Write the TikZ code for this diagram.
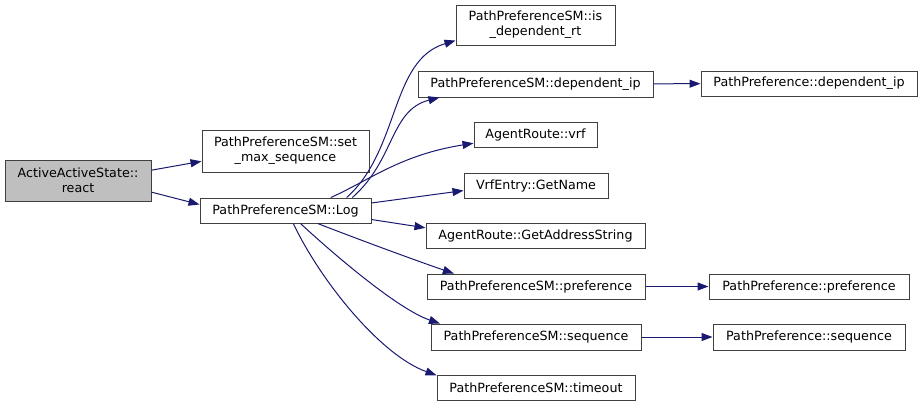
\documentclass[tikz,border=0pt]{standalone}
\usepackage{fontspec}
\setmainfont{DejaVu Sans}
\usetikzlibrary{arrows.meta}
\definecolor{edgeblue}{HTML}{191970}
\definecolor{rootgray}{HTML}{BFBFBF}

\begin{document}
\begin{tikzpicture}[x=1pt, y=-1pt,
    fn/.style={draw=black!75, line width=1pt, inner sep=0pt, align=center,
      font=\fontsize{12.7}{15}\selectfont, minimum height=25},
    call/.style={-{Triangle[length=11pt, width=8pt]}, edgeblue, line width=1pt}]
  \useasboundingbox (0,0) rectangle (923,407);

  % Caller
  \node[fn, fill=rootgray, minimum width=146, minimum height=41] (react) at (78,180.5)
    {ActiveActiveState::\\react};

  % First level
  \node[fn, minimum width=167, minimum height=42] (setmax) at (285.5,151)
    {PathPreferenceSM::set\\\_max\_sequence};
  \node[fn, minimum width=171] (log) at (285.5,210.5) {PathPreferenceSM::Log};

  % Called from Log
  \node[fn, minimum width=159, minimum height=40] (isdep) at (535.5,25)
    {PathPreferenceSM::is\\\_dependent\_rt};
  \node[fn, minimum width=235, minimum height=26] (depip) at (535.5,84)
    {PathPreferenceSM::dependent\_ip};
  \node[fn, minimum width=123] (vrf) at (535.5,134.5) {AgentRoute::vrf};
  \node[fn, minimum width=144] (getname) at (536,185.5) {VrfEntry::GetName};
  \node[fn, minimum width=219] (getaddr) at (535.5,235.5) {AgentRoute::GetAddressString};
  \node[fn, minimum width=218] (pref) at (536,286.5) {PathPreferenceSM::preference};
  \node[fn, minimum width=210, minimum height=26] (seq) at (536,337) {PathPreferenceSM::sequence};
  \node[fn, minimum width=198] (timeout) at (536,387.5) {PathPreferenceSM::timeout};

  % Last level
  \node[fn, minimum width=216] (ppdepip) at (809,83.5) {PathPreference::dependent\_ip};
  \node[fn, minimum width=200] (pppref) at (809,286.5) {PathPreference::preference};
  \node[fn, minimum width=192, minimum height=26] (ppseq) at (809,337) {PathPreference::sequence};

  % Calls
  \draw[call] (react.8) -- (setmax.187);
  \draw[call] (react.-9) -- (log.176);
  \draw[call] (log.12) .. controls (400,150) and (390,60) .. (isdep.191);
  \draw[call] (log.11) .. controls (395,160) and (390,110) .. (depip.188);
  \draw[call] (log.16) .. controls (370,180) and (400,155) .. (vrf.188);
  \draw[call] (log.5) -- (getname.184);
  \draw[call] (log.-6) -- (getaddr.176);
  \draw[call] (log.-22) .. controls (360,240) and (420,262) .. (pref.171);
  \draw[call] (log.-41) .. controls (340,260) and (400,310) .. (seq.172);
  \draw[call] (log.-59) .. controls (320,280) and (380,355) .. (timeout.173);
  \draw[call] (depip) -- (ppdepip);
  \draw[call] (pref) -- (pppref);
  \draw[call] (seq) -- (ppseq);
\end{tikzpicture}
\end{document}
